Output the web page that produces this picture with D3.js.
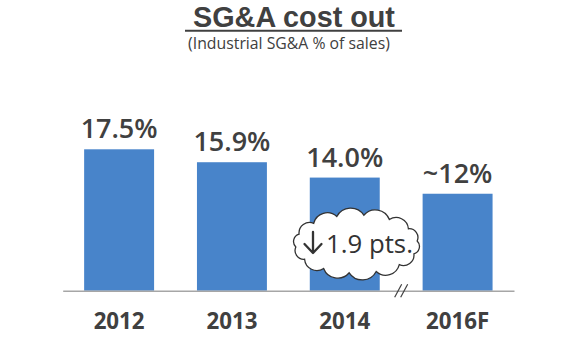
<!DOCTYPE html>
<html><head><meta charset="utf-8">
<script src="https://cdn.jsdelivr.net/npm/d3@7"></script>
<style>body{margin:0;background:#fff}svg{display:block}</style>
</head><body>
<script>
const categories = ["2012", "2013", "2014", "2016F"];
const values = [17.5, 15.9, 14.0, 12.0];
const valueLabels = ["17.5%", "15.9%", "14.0%", "~12%"];
const title = "SG&A cost out";
const subtitle = "(Industrial SG&A % of sales)";
const callout = "1.9 pts.";

const W = 577, H = 338;
const svg = d3.select("body").append("svg").attr("width", W).attr("height", H);
const textColor = "#404040";
const font = "'Open Sans', 'Liberation Sans', Arial, sans-serif";
const titleFont = "'Liberation Sans', Arial, sans-serif";

// scale a text's font-size so that it spans the given width
function fit(sel, width) {
  const n = sel.node();
  const fs = parseFloat(sel.attr("font-size"));
  const w = n.getComputedTextLength();
  const nf = fs * width / w;
  sel.attr("font-size", nf);
  return nf;
}

const baseline = 290.7;
const x = d3.scaleBand().domain(categories).range([62.7, 514]).paddingInner(0.38).paddingOuter(0.19);
const y = d3.scaleLinear().domain([0, 17.5]).range([baseline, baseline - 141.4]);

// title
const t = svg.append("text").attr("x", 294).attr("y", 26.5).attr("text-anchor", "middle")
  .attr("font-family", titleFont).attr("font-weight", "bold").attr("font-size", 30)
  .attr("fill", textColor).text(title);
fit(t, 202);
svg.append("line").attr("x1", 185).attr("x2", 402).attr("y1", 30.7).attr("y2", 30.7)
  .attr("stroke", textColor).attr("stroke-width", 2);
const st = svg.append("text").attr("x", 289).attr("y", 49).attr("text-anchor", "middle")
  .attr("font-family", font).attr("font-size", 16)
  .attr("fill", textColor).text(subtitle);
fit(st, 202);

// bars
svg.selectAll("rect.bar").data(values).join("rect").attr("class", "bar")
  .attr("x", (d, i) => x(categories[i])).attr("width", x.bandwidth())
  .attr("y", d => y(d)).attr("height", d => baseline - y(d))
  .attr("fill", "#4884CA");

// value labels
const vl = svg.selectAll("text.val").data(values).join("text").attr("class", "val")
  .attr("x", (d, i) => x(categories[i]) + x.bandwidth() / 2)
  .attr("y", d => y(d) - 11)
  .attr("text-anchor", "middle").attr("font-family", font).attr("font-weight", 600)
  .attr("font-size", 27)
  .attr("fill", textColor).text((d, i) => valueLabels[i]);
const vfs = fit(d3.select(vl.nodes()[0]), 77);
vl.attr("font-size", vfs);

// axis
const axis = svg.append("g").attr("transform", `translate(0,${baseline})`)
  .call(d3.axisBottom(x).tickSize(0).tickPadding(22));
axis.select(".domain").attr("stroke", "#a6a6a6").attr("stroke-width", 1.5);
const ticks = axis.selectAll("text").attr("font-family", font).attr("font-weight", "bold")
  .attr("font-size", 22).attr("fill", textColor);
const tfs = fit(d3.select(ticks.nodes()[0]), 51);
ticks.attr("font-size", tfs);

// axis break marks
const bx = (x("2014") + x.bandwidth() + x("2016F")) / 2;
[-3, 3].forEach(o => {
  svg.append("line").attr("x1", bx + o - 3.5).attr("y1", baseline + 6.5)
    .attr("x2", bx + o + 3.5).attr("y2", baseline - 6.5)
    .attr("stroke", "#404040").attr("stroke-width", 1.2);
});

// cloud callout
const cx = 356.5, cy = 244, rx = 61, ry = 29, N = 14;
const pts = d3.range(N).map(i => {
  const a = -Math.PI / 2 + i * 2 * Math.PI / N + 0.12;
  return [cx + rx * Math.cos(a), cy + ry * Math.sin(a)];
});
let p = `M${pts[0][0]},${pts[0][1]}`;
for (let i = 1; i <= N; i++) {
  const a = pts[i - 1], b = pts[i % N];
  const chord = Math.hypot(b[0] - a[0], b[1] - a[1]);
  const r = chord * 0.58;
  p += ` A${r},${r} 0 0 1 ${b[0]},${b[1]}`;
}
p += "Z";
svg.append("path").attr("d", p).attr("fill", "#fff").attr("stroke", "#333").attr("stroke-width", 1.3);
// down arrow
const ax = 313, at = 232, ab = 253;
svg.append("path")
  .attr("d", `M${ax},${at} L${ax},${ab} M${ax - 8.5},${ab - 9} L${ax},${ab} L${ax + 8.5},${ab - 9}`)
  .attr("fill", "none").attr("stroke", "#333").attr("stroke-width", 2.3)
  .attr("stroke-linecap", "round").attr("stroke-linejoin", "round");
const ct = svg.append("text").attr("x", 326).attr("y", 253)
  .attr("font-family", font).attr("font-size", 25).attr("fill", "#333").text(callout);
fit(ct, 87);
</script>
</body></html>
